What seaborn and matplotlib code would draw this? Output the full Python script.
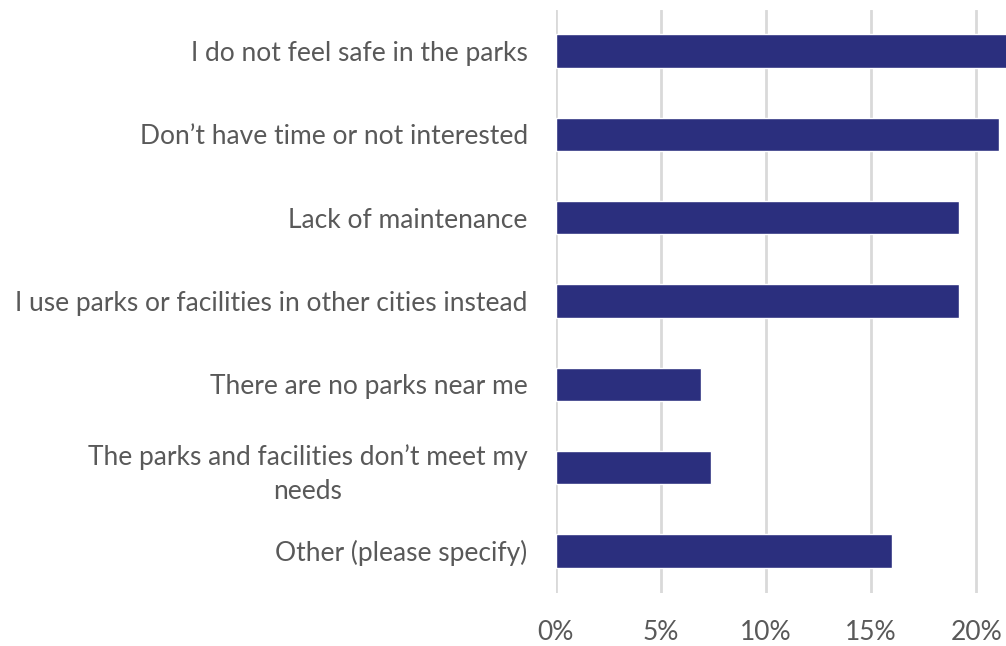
import matplotlib.pyplot as plt
import pandas as pd
import seaborn as sns
from matplotlib.ticker import PercentFormatter

reasons = [
    "I do not feel safe in the parks",
    "Don\u2019t have time or not interested",
    "Lack of maintenance",
    "I use parks or facilities in other cities instead",
    "There are no parks near me",
    "The parks and facilities don\u2019t meet my\nneeds",
    "Other (please specify)",
]
shares = [0.215, 0.211, 0.192, 0.192, 0.069, 0.074, 0.160]

df = pd.DataFrame({"reason": reasons, "share": shares})

sns.set_style("white")
plt.rcParams['font.family'] = ['Lato', 'DejaVu Sans']

fig = plt.figure(figsize=(10.06, 6.46), dpi=100)
# axis runs to 25%, the picture is cut at the right edge
ax = fig.add_axes([555.5 / 1006, 1 - 592.5 / 646, 526 / 1006, 583 / 646])

sns.barplot(data=df, x="share", y="reason", orient="h", color="#2B2F7E",
            saturation=1, width=0.4, ax=ax, zorder=3)

ax.set_xlim(0, 0.25)
ax.set_xticks([0, 0.05, 0.10, 0.15, 0.20])
ax.xaxis.set_major_formatter(PercentFormatter(1, decimals=0))
ax.grid(axis="x", color="#D9D9D9", linewidth=2, zorder=0)
ax.set_xlabel("")
ax.set_ylabel("")
sns.despine(ax=ax, left=True, bottom=True, top=True, right=True)
ax.tick_params(axis="both", length=0, colors="#595959", labelsize=19)
ax.tick_params(axis="y", pad=20)
ax.tick_params(axis="x", pad=20)
for lbl in ax.get_yticklabels():
    lbl.set_multialignment("center")
    lbl.set_linespacing(1.45)

fig.savefig("out.png", dpi=100)
